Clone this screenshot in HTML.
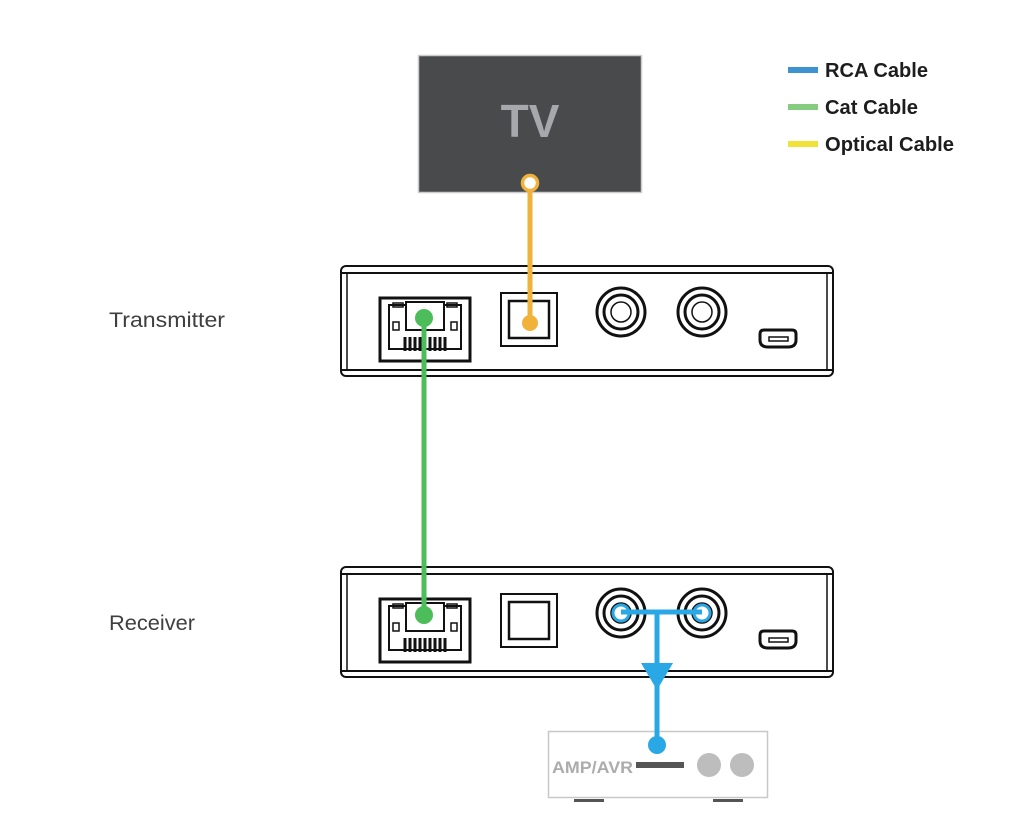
<!DOCTYPE html>
<html><head><meta charset="utf-8">
<style>
html,body{margin:0;padding:0;background:#fff;}
svg{display:block;}
text{font-family:"Liberation Sans",sans-serif;}
</style></head>
<body>
<svg width="1024" height="836" viewBox="0 0 1024 836" xmlns="http://www.w3.org/2000/svg">
<defs>
<g id="dev">
  <rect x="341" y="266" width="492" height="110" rx="5" fill="#fff" stroke="#111" stroke-width="2"/>
  <line x1="342" y1="273" x2="832" y2="273" stroke="#111" stroke-width="2"/>
  <line x1="342" y1="370" x2="832" y2="370" stroke="#111" stroke-width="2"/>
  <line x1="347" y1="273" x2="347" y2="370" stroke="#111" stroke-width="1.5"/>
  <line x1="827" y1="273" x2="827" y2="370" stroke="#111" stroke-width="1.5"/>
  <rect x="380" y="298" width="90" height="63" fill="#fff" stroke="#111" stroke-width="3"/>
  <path d="M389 305 H461 V349 H389 Z" fill="none" stroke="#111" stroke-width="2"/>
  <rect x="406" y="302" width="38" height="28" fill="#fff" stroke="#111" stroke-width="2"/>
  <rect x="393" y="303" width="10" height="4" fill="none" stroke="#111" stroke-width="1.5"/>
  <rect x="447" y="303" width="10" height="4" fill="none" stroke="#111" stroke-width="1.5"/>
  <rect x="393" y="322" width="6" height="8" fill="none" stroke="#111" stroke-width="1.5"/>
  <rect x="451" y="322" width="6" height="8" fill="none" stroke="#111" stroke-width="1.5"/>
  <g stroke="#111" stroke-width="3">
    <line x1="405" y1="337" x2="405" y2="351"/><line x1="410" y1="337" x2="410" y2="351"/>
    <line x1="415" y1="337" x2="415" y2="351"/><line x1="420" y1="337" x2="420" y2="351"/>
    <line x1="425" y1="337" x2="425" y2="351"/><line x1="430" y1="337" x2="430" y2="351"/>
    <line x1="435" y1="337" x2="435" y2="351"/><line x1="440" y1="337" x2="440" y2="351"/>
    <line x1="445" y1="337" x2="445" y2="351"/>
  </g>
  <line x1="389" y1="349" x2="461" y2="349" stroke="#111" stroke-width="2"/>
  <rect x="501" y="293" width="56" height="53" fill="#fff" stroke="#111" stroke-width="2"/>
  <rect x="509" y="301" width="40" height="37" fill="#fff" stroke="#111" stroke-width="2.5"/>
  <circle cx="621" cy="312" r="24" fill="#fff" stroke="#111" stroke-width="3"/>
  <circle cx="621" cy="312" r="17" fill="#fff" stroke="#111" stroke-width="3"/>
  <circle cx="621" cy="312" r="10" fill="#fff" stroke="#111" stroke-width="1.5"/>
  <circle cx="702" cy="312" r="24" fill="#fff" stroke="#111" stroke-width="3"/>
  <circle cx="702" cy="312" r="17" fill="#fff" stroke="#111" stroke-width="3"/>
  <circle cx="702" cy="312" r="10" fill="#fff" stroke="#111" stroke-width="1.5"/>
  <path d="M760 334 Q760 330 764 330 H792 Q796 330 796 334 V340 Q796 347 788 347 H768 Q760 347 760 340 Z" fill="#fff" stroke="#111" stroke-width="3"/>
  <rect x="769" y="337" width="19" height="4" fill="none" stroke="#111" stroke-width="1.5"/>
</g>
</defs>

<rect x="418.5" y="55.5" width="223" height="137" fill="#484a4b" stroke="#ccc" stroke-width="1.5"/>
<text x="530" y="137" text-anchor="middle" font-size="46" font-weight="bold" fill="#a6a8ab">TV</text>

<rect x="788" y="67" width="30" height="6" fill="#3e92d0"/>
<rect x="788" y="104" width="30" height="6" fill="#86cc7e"/>
<rect x="788" y="141" width="30" height="6" fill="#f1e23a"/>
<text x="825" y="77" font-size="20" font-weight="bold" fill="#1d1d1d" textLength="103" lengthAdjust="spacingAndGlyphs">RCA Cable</text>
<text x="825" y="114" font-size="20" font-weight="bold" fill="#1d1d1d" textLength="93" lengthAdjust="spacingAndGlyphs">Cat Cable</text>
<text x="825" y="151" font-size="20" font-weight="bold" fill="#1d1d1d" textLength="129" lengthAdjust="spacingAndGlyphs">Optical Cable</text>

<text x="109" y="327" font-size="21" fill="#3f3f3f" textLength="116" lengthAdjust="spacingAndGlyphs">Transmitter</text>
<text x="109" y="630" font-size="21" fill="#3f3f3f" textLength="86" lengthAdjust="spacingAndGlyphs">Receiver</text>

<use href="#dev"/>
<use href="#dev" transform="translate(0,301)"/>

<line x1="530" y1="184" x2="530" y2="323" stroke="#f1b23b" stroke-width="5"/>
<circle cx="530" cy="183" r="7.5" fill="#fff" stroke="#f1b23b" stroke-width="3.5"/>
<circle cx="530" cy="323" r="8" fill="#f1b23b"/>

<line x1="424" y1="318" x2="424" y2="615" stroke="#4dbc5a" stroke-width="5"/>
<circle cx="424" cy="318" r="9" fill="#4dbc5a"/>
<circle cx="424" cy="615" r="9" fill="#4dbc5a"/>

<rect x="548.5" y="731.5" width="219" height="66" fill="#fff" stroke="#c8c8c8" stroke-width="1.5"/>
<text x="552" y="773" font-size="17" font-weight="bold" fill="#acacac" textLength="81" lengthAdjust="spacingAndGlyphs">AMP/AVR</text>
<rect x="636" y="762" width="48" height="6" fill="#555"/>
<circle cx="709" cy="765" r="12" fill="#bdbdbd"/>
<circle cx="742" cy="765" r="12" fill="#bdbdbd"/>
<rect x="574" y="799" width="30" height="3" fill="#555"/>
<rect x="713" y="799" width="30" height="3" fill="#555"/>

<circle cx="621" cy="613" r="8" fill="#fff" stroke="#2aa8e6" stroke-width="3"/>
<circle cx="702" cy="613" r="8" fill="#fff" stroke="#2aa8e6" stroke-width="3"/>
<line x1="621" y1="612" x2="702" y2="612" stroke="#2aa8e6" stroke-width="5"/>
<line x1="657" y1="612" x2="657" y2="745" stroke="#2aa8e6" stroke-width="5"/>
<polygon points="641,663 673,663 657,690" fill="#2aa8e6"/>
<circle cx="657" cy="745" r="9" fill="#2aa8e6"/>
</svg>
</body></html>
